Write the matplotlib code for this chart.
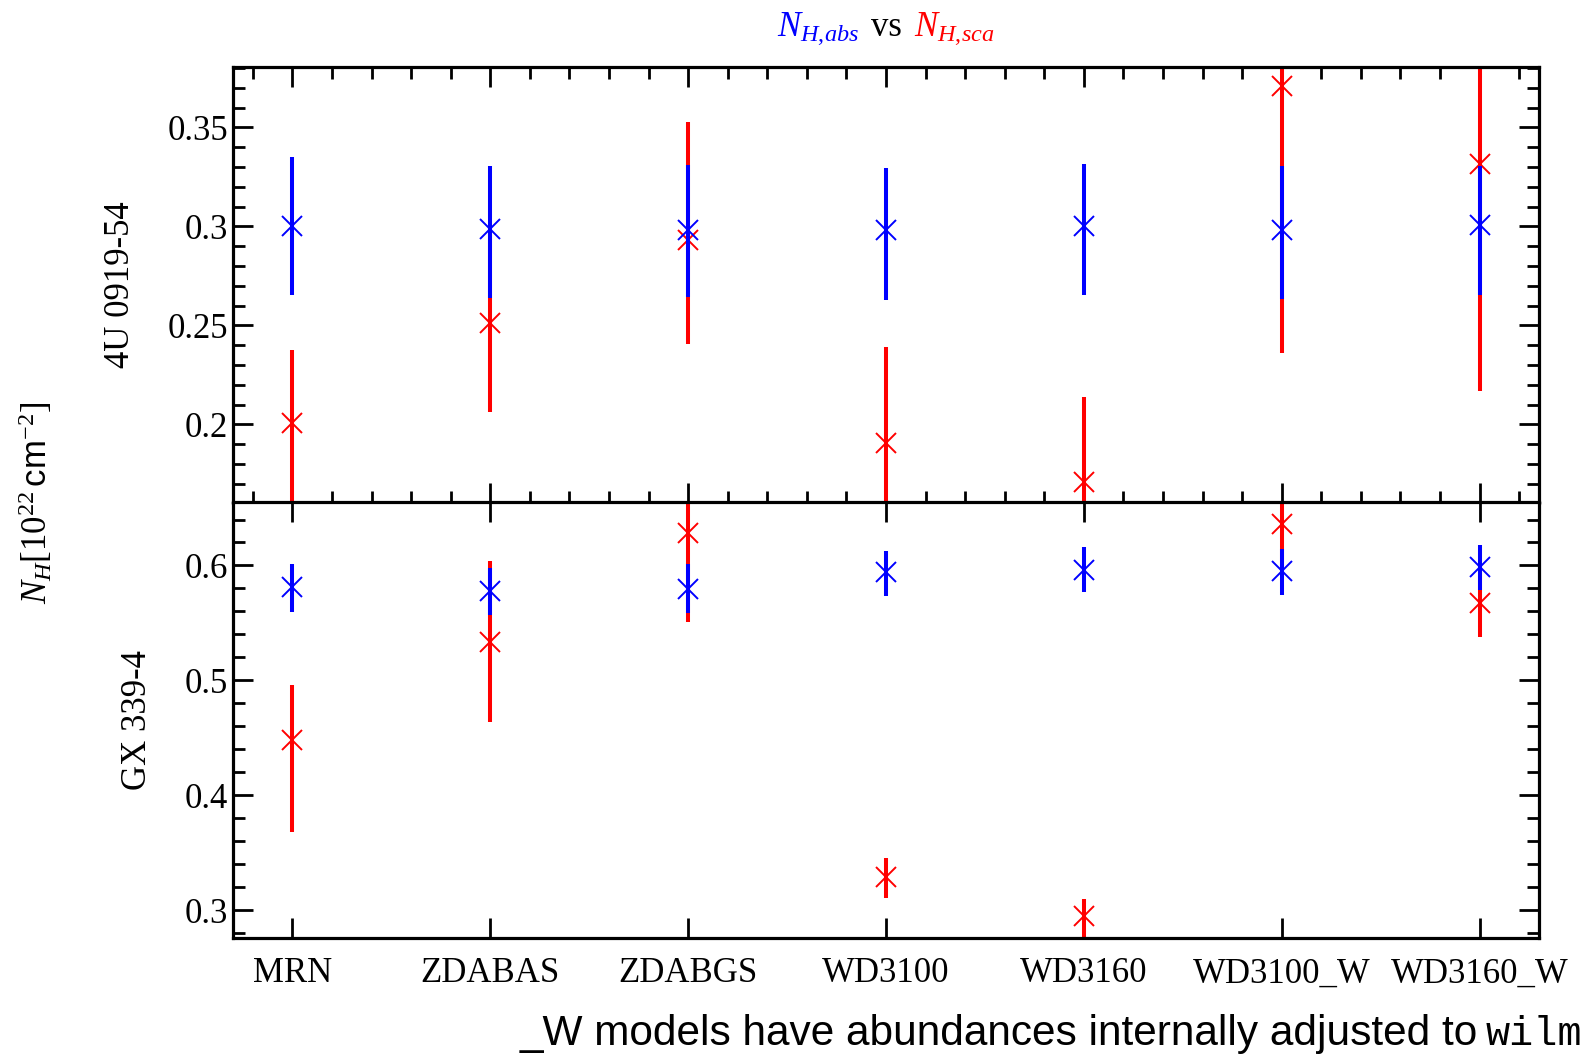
import matplotlib
matplotlib.use("Agg")
import matplotlib.pyplot as plt
from matplotlib import font_manager as fm
from matplotlib.ticker import FixedLocator, MultipleLocator, NullLocator

# ---------------- data ----------------
categories = ['MRN', 'ZDABAS', 'ZDABGS', 'WD3100', 'WD3160', 'WD3100_W', 'WD3160_W']
sources = ['4U 0919-54', 'GX 339-4']

# 4U 0919-54
abs1 = [0.3000, 0.2988, 0.2983, 0.2980, 0.3000, 0.2983, 0.3008]
abs1_lo = [0.0345, 0.0347, 0.0337, 0.0351, 0.0347, 0.0349, 0.0353]
abs1_hi = [0.0350, 0.0319, 0.0329, 0.0315, 0.0317, 0.0320, 0.0295]
sca1 = [0.2006, 0.2511, 0.2933, 0.1908, 0.1711, 0.3708, 0.3317]
sca1_lo = [0.0450, 0.0450, 0.0526, 0.0480, 0.0430, 0.1345, 0.1150]
sca1_hi = [0.0371, 0.0450, 0.0593, 0.0482, 0.0430, 0.1345, 0.1150]

# GX 339-4
abs2 = [0.5813, 0.5781, 0.5795, 0.5939, 0.5963, 0.5948, 0.5988]
abs2_lo = [0.0217, 0.0208, 0.0213, 0.0201, 0.0197, 0.0208, 0.0205]
abs2_hi = [0.0196, 0.0199, 0.0217, 0.0191, 0.0201, 0.0193, 0.0194]
sca2 = [0.4477, 0.5337, 0.6280, 0.3286, 0.2949, 0.6360, 0.5676]
sca2_lo = [0.0799, 0.0701, 0.0773, 0.0179, 0.0180, 0.0400, 0.0298]
sca2_hi = [0.0485, 0.0701, 0.0773, 0.0167, 0.0144, 0.0400, 0.0298]

yticks1 = [0.2, 0.25, 0.3, 0.35]
yticklabels1 = ['0.2', '0.25', '0.3', '0.35']
yticks2 = [0.3, 0.4, 0.5, 0.6]
yticklabels2 = ['0.3', '0.4', '0.5', '0.6']

# ---------------- style ----------------
names = {f.name for f in fm.fontManager.ttflist}
serif = 'Liberation Serif' if 'Liberation Serif' in names else 'DejaVu Serif'
sans = 'Liberation Sans' if 'Liberation Sans' in names else 'DejaVu Sans'
mono = 'Liberation Mono' if 'Liberation Mono' in names else 'DejaVu Sans Mono'

plt.rcParams['font.family'] = [serif, 'DejaVu Serif']
plt.rcParams['mathtext.fontset'] = 'custom'
plt.rcParams['mathtext.rm'] = serif
plt.rcParams['mathtext.it'] = serif + ':italic'
plt.rcParams['mathtext.bf'] = serif + ':bold'
plt.rcParams['mathtext.sf'] = sans

FS = 25
W, H = 1592, 1056
fig = plt.figure(figsize=(W / 100, H / 100), dpi=100)

left, right, top, bottom = 233 / W, 1539 / W, 1 - 67 / H, 1 - 938 / H
mid = (top + bottom) / 2
ax1 = fig.add_axes([left, mid, right - left, top - mid])
ax2 = fig.add_axes([left, bottom, right - left, mid - bottom])

x = list(range(len(categories)))
mk = dict(fmt='x', markersize=14.5, markeredgewidth=1.4, elinewidth=2.9, capsize=0)

panels = [
    (ax1, abs1, abs1_lo, abs1_hi, sca1, sca1_lo, sca1_hi, (0.1606, 0.3805), yticks1, yticklabels1, 0.01),
    (ax2, abs2, abs2_lo, abs2_hi, sca2, sca2_lo, sca2_hi, (0.2757, 0.6548), yticks2, yticklabels2, 0.02),
]

for i, (ax, a, alo, ahi, s, slo, shi, ylim, yt, ytl, ymin) in enumerate(panels):
    ax.errorbar(x, s, yerr=[slo, shi], color='#ff0000', zorder=2, **mk)
    ax.errorbar(x, a, yerr=[alo, ahi], color='#0000ff', zorder=3, **mk)
    ax.set_ylim(*ylim)
    ax.set_xlim(-0.30, 6.30)
    ax.yaxis.set_major_locator(FixedLocator(yt))
    ax.set_yticklabels(ytl)
    ax.yaxis.set_minor_locator(MultipleLocator(ymin))
    ax.set_ylabel(sources[i], fontsize=FS, labelpad=22)
    for sp in ax.spines.values():
        sp.set_linewidth(2.3)
    ax.tick_params(which='both', direction='in', top=True, right=True, width=2.0,
                   labelsize=FS)
    ax.tick_params(which='major', length=14.5)
    ax.tick_params(which='minor', length=8.5)

# upper panel: major + minor x ticks, no labels
ax1.xaxis.set_major_locator(FixedLocator(x))
ax1.xaxis.set_minor_locator(MultipleLocator(0.2))
ax1.tick_params(axis='x', labelbottom=False)
# lower panel: only major x ticks with labels
ax2.set_xticks(x)
ax2.set_xticklabels(categories)
ax2.xaxis.set_minor_locator(NullLocator())
ax2.tick_params(axis='x', which='major', pad=14)

# common y label
fig.text(36 / W, 1 - 503 / H, r'$N_H[10^{22}\,\mathsf{cm}^{-2}]$', rotation=90,
         ha='center', va='center', fontsize=FS)

# ---------------- title (coloured pieces) ----------------
fig.canvas.draw()
r = fig.canvas.get_renderer()
ty = 1 - 36 / H
t1 = fig.text(0, ty, r'$N_{H{,}abs}$', color='#0000ff', fontsize=FS, va='baseline')
t2 = fig.text(0, ty, 'vs', color='black', fontsize=FS, va='baseline')
t3 = fig.text(0, ty, r'$N_{H{,}sca}$', color='#ff0000', fontsize=FS, va='baseline')
gap = 12
ws = [t.get_window_extent(r).width for t in (t1, t2, t3)]
total = sum(ws) + 2 * gap
cx = (233 + 1539) / 2
x0 = cx - total / 2
for t, w in zip((t1, t2, t3), ws):
    t.set_x(x0 / W)
    x0 += w + gap

# ---------------- bottom note ----------------
by = 1 - 1045 / H
tb = fig.text(1582 / W, by, 'wilm', family=[mono, 'DejaVu Sans Mono'], fontsize=29,
              ha='right', va='baseline')
fig.canvas.draw()
wb = tb.get_window_extent(r)
ta = fig.text((wb.x0 - 8) / W, by, '_W models have abundances internally adjusted to',
              family=[sans, 'DejaVu Sans'], fontsize=30.5, ha='right', va='baseline')

fig.savefig('out.png', dpi=100)
